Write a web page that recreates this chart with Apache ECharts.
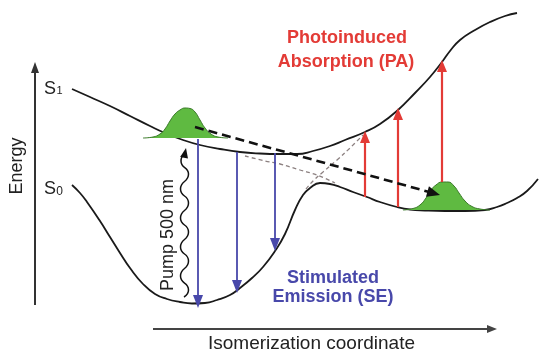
<!DOCTYPE html>
<html><head><meta charset="utf-8">
<script src="https://cdn.jsdelivr.net/npm/echarts@6/dist/echarts.min.js"></script>
<style>html,body{margin:0;padding:0;background:#fff}#c{width:539px;height:351px}</style>
</head><body><div id="c"></div>
<script>
// Schematic units: x = isomerization coordinate (0-539), y = energy (0-351)
const s1Curve = [[72,262],[90,254],[110,245],[130,235],[150,225],[165,218],[183,211],[200,206],[220,202],[240,199],[260,197.5],[280,197],[297,197],[313,200],[330,205],[345,211],[365,219],[380,227],[398,241],[415,258],[430,274],[442,289],[450,300],[460,311],[475,321],[490,329],[505,335],[517,338]];
const s0Curve = [[72,166],[80,158],[87,149],[100,130],[110,114],[120,98],[130,83],[143,67],[155,57],[167,52],[180,49],[192,47.5],[205,48],[217,51],[230,56],[240,63],[252,73],[263,84],[275,100],[285,117],[295,141],[303,156],[310,163],[320,168],[330,167],[340,164],[353,159],[367,154],[380,149],[397,144],[410,141.5],[425,140.5],[445,140],[465,140],[485,141],[497,144],[507,148],[517,153],[527,160],[538,172]];
const packetS1 = [[143,213],[153,214],[160,217],[165,222],[170,230],[175,237],[180,241],[185,243],[190,242.5],[195,239],[200,231],[205,223],[211,217],[218,214],[228,213]];
const packetS1Base = 213;
const packetTrans = [[403,141],[413,142.5],[420,146],[426,153],[431,161],[436,166],[442,169],[448,169],[454,165],[459,158],[465,150],[472,144.5],[480,142],[490,141]];
const packetTransBase = 141;
// [x, energy from, energy to (tip)]
const seArrows = [[198,212,43],[237,199,58],[275,198,100]];
const paArrows = [[365,154,220],[398,144,243],[442,169,291]];
const relaxArrow = [[195,224],[440,156]];
const diabaticA = [[245,195],[265,190],[280,187],[300,181],[317,176],[335,168]];
const diabaticB = [[306,162],[313,170],[323,179],[337,191],[350,203],[363,216]];
const pumpWave = [[184,54],[188.5,61],[180.5,75],[188.5,90],[180.5,104],[188.5,119],[180.5,133],[188.5,148],[180.5,162],[188.5,177],[181,190],[185,198]];
const pumpTip = [186,203];
const energyAxis = [[35,46],[35,289]];
const coordAxis = [[153,22],[497,22]];

function headCenter(from, tip, len) {
  const dx = tip[0]-from[0], dy = tip[1]-from[1], d = Math.hypot(dx, dy);
  return [tip[0]-dx/d*len/2, tip[1]-dy/d*len/2];
}
const FONT = '"Liberation Sans", Arial, sans-serif';
const RED = '#E33B36', BLUE = '#4848AA', GREEN = '#5FBA41';

const chart = echarts.init(document.getElementById('c'), null, {renderer: 'canvas'});
const arrowSeries = (name, list, color, width, size, z, extra) => Object.assign({
  type: 'lines', name, coordinateSystem: 'cartesian2d', z, silent: true,
  symbol: ['none', 'triangle'], symbolSize: [0, size],
  lineStyle: {color, width, opacity: 1},
  data: list.map(p => ({coords: [p[0], headCenter(p[0], p[1], size[1])]}))
}, extra || {});

chart.setOption({
  animation: false,
  backgroundColor: '#fff',
  grid: {left: 0, right: 0, top: 0, bottom: 0},
  xAxis: {type: 'value', min: 0, max: 539, show: false},
  yAxis: {type: 'value', min: 0, max: 351, show: false},
  series: [
    {type: 'line', name: 'S1', data: s1Curve, smooth: 0.5, showSymbol: false, z: 2, silent: true,
     lineStyle: {color: '#1a1a1a', width: 1.8}},
    {type: 'line', name: 'S0', data: s0Curve, smooth: 0.5, showSymbol: false, z: 2, silent: true,
     lineStyle: {color: '#1a1a1a', width: 1.8}},
    {type: 'line', name: 'diabA', data: diabaticA, smooth: 0.4, showSymbol: false, z: 2, silent: true,
     lineStyle: {color: '#8c8080', width: 1.3, type: [4, 3]}},
    {type: 'line', name: 'diabB', data: diabaticB, smooth: 0.4, showSymbol: false, z: 2, silent: true,
     lineStyle: {color: '#8c8080', width: 1.3, type: [4, 3]}},
    {type: 'line', name: 'packet1', data: packetS1, smooth: 0.5, showSymbol: false, z: 3, silent: true,
     lineStyle: {color: '#3b7a2a', width: 1}, areaStyle: {color: GREEN, opacity: 1, origin: packetS1Base}},
    {type: 'line', name: 'packet2', data: packetTrans, smooth: 0.5, showSymbol: false, z: 3, silent: true,
     lineStyle: {color: '#3b7a2a', width: 1}, areaStyle: {color: GREEN, opacity: 1, origin: packetTransBase}},
    arrowSeries('SE', seArrows.map(a => [[a[0], a[1]], [a[0], a[2]]]), BLUE, 1.8, [10, 13], 4),
    arrowSeries('PA', paArrows.map(a => [[a[0], a[1]], [a[0], a[2]]]), RED, 2.2, [10, 12], 4),
    arrowSeries('relax', [relaxArrow], '#111', 2.6, [11, 13], 5, {lineStyle: {color: '#111', width: 2.6, type: [9, 5], opacity: 1}}),
    {type: 'line', name: 'pump', data: pumpWave, smooth: 0.6, showSymbol: false, z: 4, silent: true,
     lineStyle: {color: '#111', width: 1.5}},
    arrowSeries('pumpHead', [[pumpWave[pumpWave.length-1], pumpTip]], '#111', 1.5, [8, 10], 4),
    arrowSeries('axisE', [energyAxis], '#333', 2, [8, 11], 1),
    arrowSeries('axisX', [coordAxis], '#444', 1.8, [8, 10], 1)
  ],
  graphic: [
    {type: 'text', x: 17.5, y: 166, rotation: Math.PI/2, style: {text: 'Energy', font: '18px ' + FONT, fill: '#222', align: 'center', verticalAlign: 'middle'}},
    {type: 'text', x: 311.5, y: 343.5, style: {text: 'Isomerization coordinate', font: '19px ' + FONT, fill: '#222', align: 'center', verticalAlign: 'middle'}},
    {type: 'text', x: 168, y: 235, rotation: Math.PI/2, style: {text: 'Pump 500 nm', font: '18px ' + FONT, fill: '#222', align: 'center', verticalAlign: 'middle'}},
    {type: 'text', x: 50, y: 89, style: {text: 'S', font: '18px ' + FONT, fill: '#222', align: 'center', verticalAlign: 'middle'}},
    {type: 'text', x: 59.5, y: 91, style: {text: '1', font: '11px ' + FONT, fill: '#222', align: 'center', verticalAlign: 'middle'}},
    {type: 'text', x: 50, y: 189, style: {text: 'S', font: '18px ' + FONT, fill: '#222', align: 'center', verticalAlign: 'middle'}},
    {type: 'text', x: 59.5, y: 192, style: {text: '0', font: '12px ' + FONT, fill: '#222', align: 'center', verticalAlign: 'middle'}},
    {type: 'text', x: 347, y: 38.5, style: {text: 'Photoinduced', font: 'bold 18px ' + FONT, fill: RED, align: 'center', verticalAlign: 'middle'}},
    {type: 'text', x: 346, y: 62, style: {text: 'Absorption (PA)', font: 'bold 18px ' + FONT, fill: RED, align: 'center', verticalAlign: 'middle'}},
    {type: 'text', x: 333, y: 278, style: {text: 'Stimulated', font: 'bold 18px ' + FONT, fill: BLUE, align: 'center', verticalAlign: 'middle'}},
    {type: 'text', x: 333, y: 297.5, style: {text: 'Emission (SE)', font: 'bold 18px ' + FONT, fill: BLUE, align: 'center', verticalAlign: 'middle'}}
  ]
});
</script></body></html>
